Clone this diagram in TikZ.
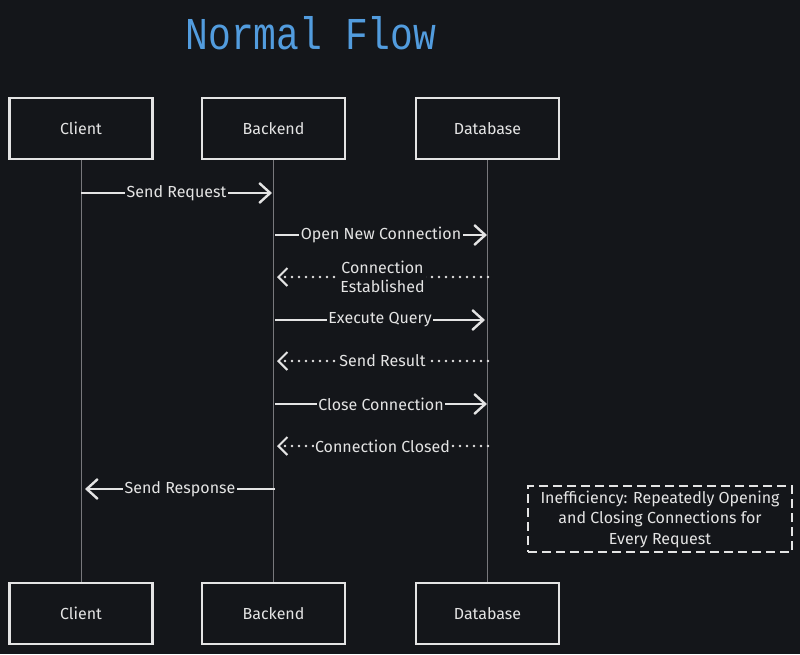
\documentclass[tikz,border=0pt]{standalone}
\usepackage{fontspec}
\setmainfont{Fira Sans}
\newfontfamily\titlefont{Liberation Mono}
\usetikzlibrary{arrows.meta}
\definecolor{bg}{RGB}{20,22,26}
\definecolor{ink}{RGB}{228,228,228}
\definecolor{lifeln}{RGB}{120,120,124}
\definecolor{titleblue}{RGB}{82,156,222}
\tikzset{
  actor/.style={draw=ink, line width=2.4pt, fill=bg, minimum width=143pt, minimum height=61pt, text=ink, font=\fontsize{16}{18}\selectfont, inner sep=0pt},
  life/.style={draw=lifeln, line width=1pt},
  msg/.style={draw=ink, line width=2.4pt, -{Straight Barb[length=11pt,width=20pt,line width=2.4pt]}},
  reply/.style={draw=ink, line width=2.8pt, line cap=round, dash pattern=on 0pt off 7pt, -{Straight Barb[length=9pt,width=18pt,line width=2pt]}},
  lbl/.style={fill=bg, text=ink, font=\fontsize{16}{19}\selectfont, inner sep=1.5pt, align=center},
  note/.style={draw=ink, line width=2pt, dash pattern=on 9pt off 5pt, text=ink, font=\fontsize{16}{20.5}\selectfont, align=center, minimum width=264pt, minimum height=66pt, inner sep=0pt}
}
\begin{document}
\begin{tikzpicture}[x=1pt,y=-1pt]
\fill[bg] (0,0) rectangle (800,654);
\useasboundingbox (0,0) rectangle (800,654);

\node[text=titleblue, font=\titlefont\fontsize{38}{40}\selectfont] (title) at (311,33) {\scalebox{1}[1.2]{Normal Flow}};

\node[actor] (cT) at (81,128.5) {Client};
\node[actor] (bT) at (273.5,128.5) {Backend};
\node[actor] (dT) at (487.5,128.5) {Database};
\node[actor] (cB) at (81,613.5) {Client};
\node[actor] (bB) at (273.5,613.5) {Backend};
\node[actor] (dB) at (487.5,613.5) {Database};

\draw[life] (cT.south) -- (cB.north);
\draw[life] (bT.south) -- (bB.north);
\draw[life] (dT.south) -- (dB.north);

\coordinate (c1) at (81,193);   \coordinate (b1) at (272,193);
\coordinate (b2) at (275,235);  \coordinate (d2) at (487,235);
\coordinate (d3) at (488,277);  \coordinate (b3) at (277,277);
\coordinate (b4) at (275,320);  \coordinate (d4) at (485,320);
\coordinate (d5) at (488,361);  \coordinate (b5) at (277,361);
\coordinate (b6) at (275,404);  \coordinate (d6) at (487,404);
\coordinate (d7) at (488,446);  \coordinate (b7) at (277,446);
\coordinate (b8) at (275,489);  \coordinate (c8) at (85,489);

\draw[msg] (c1) -- node[lbl] (l1) {Send Request} (b1);
\draw[msg] (b2) -- node[lbl] (l2) {Open New Connection} (d2);
\draw[reply] (d3) -- node[lbl] (l3) {Connection\\Established} (b3);
\draw[msg] (b4) -- node[lbl] (l4) {Execute Query} (d4);
\draw[reply] (d5) -- node[lbl] (l5) {Send Result} (b5);
\draw[msg] (b6) -- node[lbl] (l6) {Close Connection} (d6);
\draw[reply] (d7) -- node[lbl] (l7) {Connection Closed} (b7);
\draw[msg] (b8) -- node[lbl] (l8) {Send Response} (c8);

\node[note] (n1) at (660,519) {Inefficiency: Repeatedly Opening\\and Closing Connections for\\Every Request};
\end{tikzpicture}
\end{document}
